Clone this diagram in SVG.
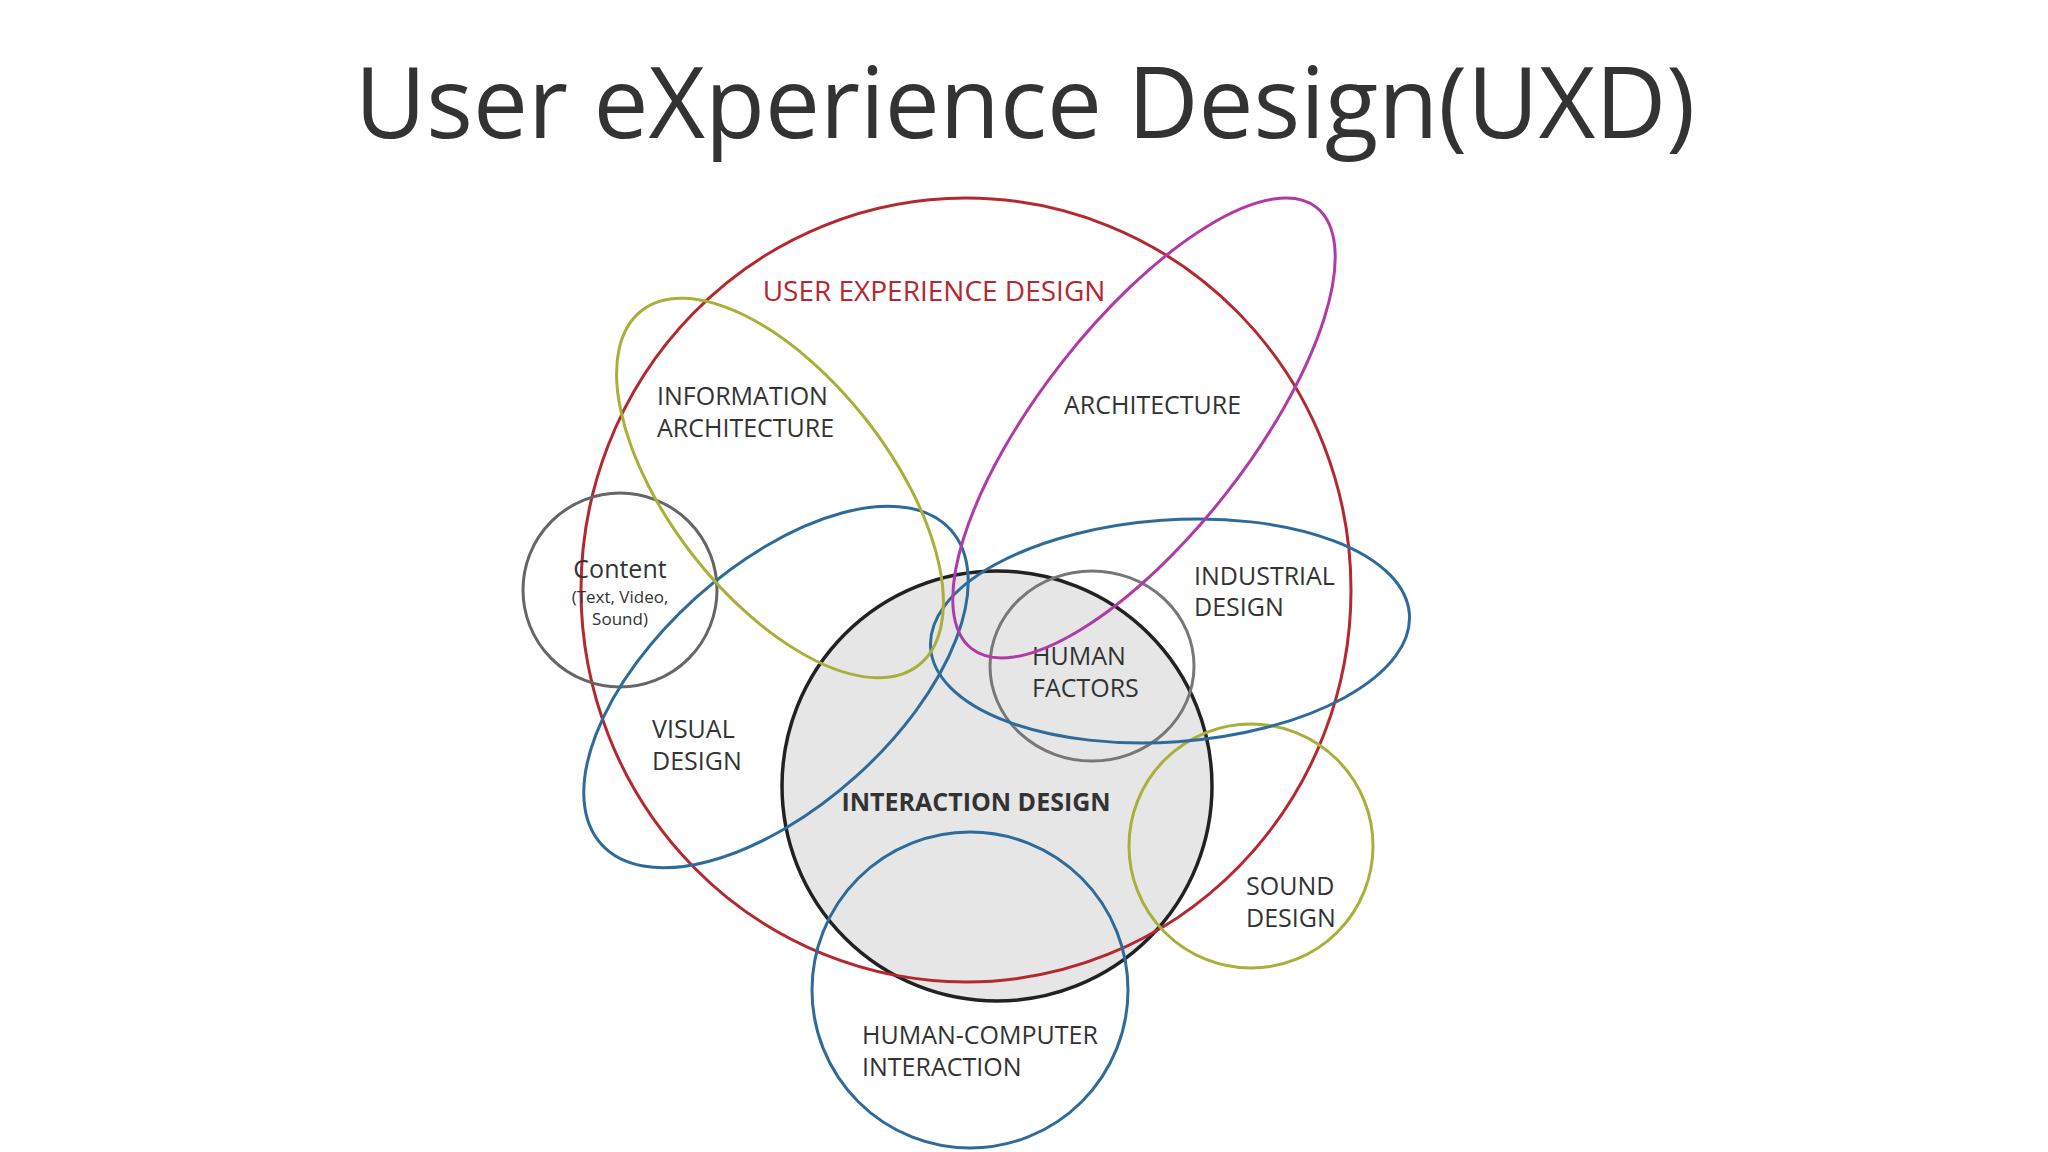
<svg xmlns="http://www.w3.org/2000/svg" width="2048" height="1152" viewBox="0 0 2048 1152">
<style>
.s{fill:none;stroke-width:3}
.t{font-family:"Open Sans",sans-serif;font-size:25px;fill:#333}
</style>
<rect width="2048" height="1152" fill="#fff"/>
<text x="1025" y="138" text-anchor="middle" font-family="Open Sans,sans-serif" font-size="98" fill="#333">User eXperience Design(UXD)</text>
<g id="interaction"><circle cx="997" cy="786" r="215" fill="#e6e6e6" stroke="#222" stroke-width="3.5"/><text class="t" x="976" y="811" text-anchor="middle" font-weight="bold" fill="#222">INTERACTION DESIGN</text></g>
<g id="ux"><ellipse class="s" cx="966" cy="590" rx="385" ry="392" stroke="#b5282e"/><text x="934" y="301" text-anchor="middle" font-family="Open Sans,sans-serif" font-size="28" fill="#b5282e">USER EXPERIENCE DESIGN</text></g>
<g id="hci"><circle class="s" cx="970" cy="990" r="158" stroke="#2f6b9a"/><text class="t" x="862" y="1044">HUMAN-COMPUTER</text><text class="t" x="862" y="1076">INTERACTION</text></g>
<g id="sound"><circle class="s" cx="1251" cy="846" r="122" stroke="#a8b03a"/><text class="t" x="1246" y="895">SOUND</text><text class="t" x="1246" y="927">DESIGN</text></g>
<g id="content"><circle class="s" cx="620" cy="590" r="97" stroke="#666"/><text class="t" x="620" y="578" text-anchor="middle">Content</text><text x="620" y="603" text-anchor="middle" font-family="Open Sans,sans-serif" font-size="17" fill="#333">(Text, Video,</text><text x="620" y="625" text-anchor="middle" font-family="Open Sans,sans-serif" font-size="17" fill="#333">Sound)</text></g>
<g id="humanfactors"><ellipse class="s" cx="1092" cy="666" rx="102" ry="95" stroke="#777"/><text class="t" x="1032" y="665">HUMAN</text><text class="t" x="1032" y="697">FACTORS</text></g>
<g id="industrial"><ellipse class="s" cx="1170" cy="631" rx="240" ry="111" transform="rotate(-4 1170 631)" stroke="#2f6b9a"/><text class="t" x="1194" y="585">INDUSTRIAL</text><text class="t" x="1194" y="616">DESIGN</text></g>
<g id="visual"><ellipse class="s" cx="776" cy="687" rx="235" ry="120" transform="rotate(-42 776 687)" stroke="#2f6b9a"/><text class="t" x="652" y="738">VISUAL</text><text class="t" x="652" y="770">DESIGN</text></g>
<g id="infoarch"><ellipse class="s" cx="780" cy="488" rx="225" ry="110" transform="rotate(52 780 488)" stroke="#a8b03a"/><text class="t" x="657" y="405">INFORMATION</text><text class="t" x="657" y="437">ARCHITECTURE</text></g>
<g id="architecture"><ellipse class="s" cx="1144" cy="428" rx="280" ry="105" transform="rotate(-52 1144 428)" stroke="#b03aa8"/><text class="t" x="1064" y="414">ARCHITECTURE</text></g>
<g id="connectors"/>
</svg>
